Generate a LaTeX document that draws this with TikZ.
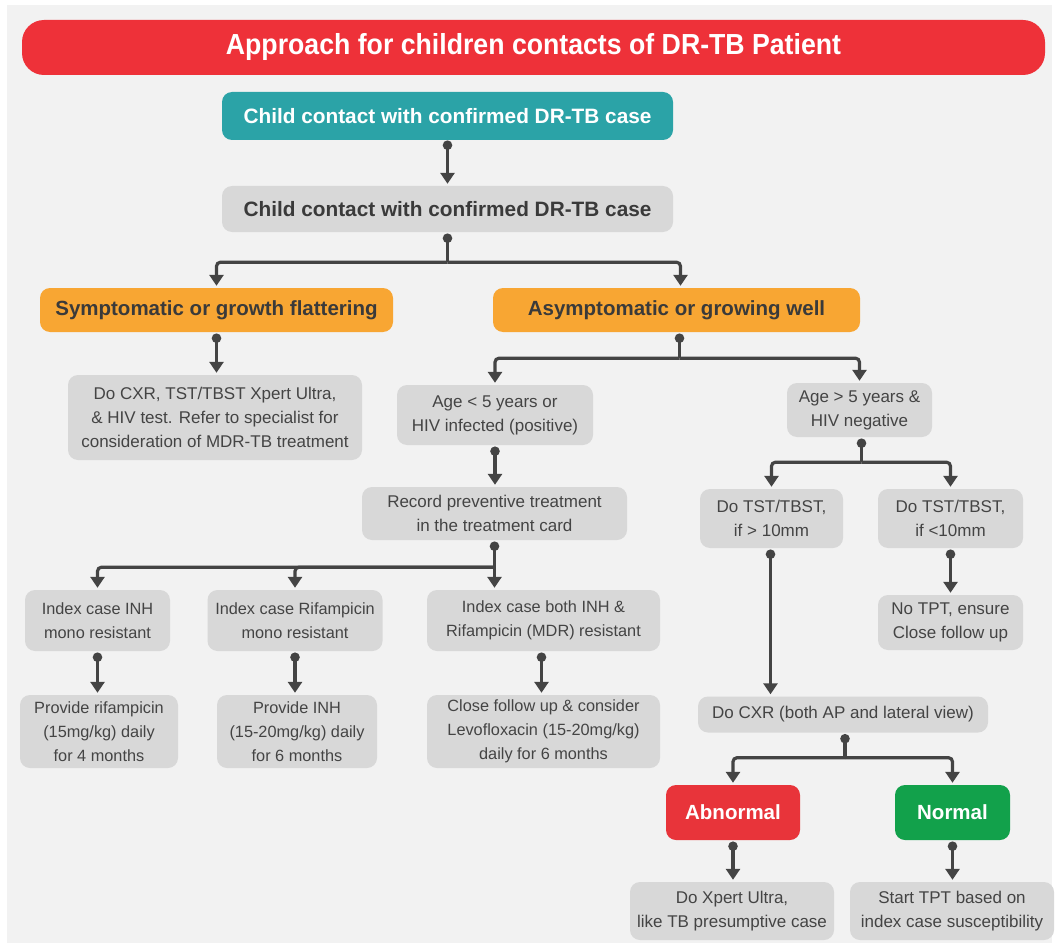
\documentclass[tikz,border=0pt]{standalone}
\usepackage{fontspec}
\setmainfont{Liberation Sans}
\usetikzlibrary{arrows.meta}
\definecolor{panel}{HTML}{F2F2F2}
\definecolor{titlered}{HTML}{EE3139}
\definecolor{teal}{HTML}{2BA3A7}
\definecolor{orng}{HTML}{F8A633}
\definecolor{boxgray}{HTML}{D8D8D8}
\definecolor{txtgray}{HTML}{444444}
\definecolor{darktxt}{HTML}{3A3A3A}
\definecolor{abnred}{HTML}{E8343A}
\definecolor{okgreen}{HTML}{12A14B}
\definecolor{linec}{HTML}{444444}
\tikzset{
  box/.style={rounded corners=10pt, align=center, inner sep=0pt},
  gbox/.style={box, fill=boxgray, text=txtgray, font=\fontsize{17}{24}\selectfont},
  sbox/.style={box, fill=boxgray, text=txtgray, font=\fontsize{16.3}{24}\selectfont},
  obox/.style={box, fill=orng, text=darktxt, font=\bfseries\fontsize{20.5}{24}\selectfont},
  bar/.style={draw=linec, line width=3.2pt},
  conn/.style={draw=linec, line width=3.2pt, rounded corners=4pt, shorten >=2pt,
    -{Triangle[width=14pt,length=11pt]}},
  jdot/.style={fill=linec},
}
\begin{document}
\begin{tikzpicture}[x=1pt,y=-1pt]
\useasboundingbox (0,0) rectangle (1058,947);
\fill[white] (0,0) rectangle (1058,947);
\fill[panel] (7,5) rectangle (1052,943);
% title
\node[box, fill=titlered, rounded corners=22pt, minimum width=1023, minimum height=55, text=white,
  font=\bfseries\fontsize{29}{32}\selectfont] (title) at (533.5,47.5) {\scalebox{0.92}[1]{Approach for children contacts of DR-TB Patient}};
% nodes
\node[box, fill=teal, text=white, font=\bfseries\fontsize{20.8}{24}\selectfont, minimum width=451, minimum height=48] (top) at (447.5,116) {Child contact with confirmed DR-TB case};
\node[box, fill=boxgray, text=darktxt, font=\bfseries\fontsize{20.8}{24}\selectfont, minimum width=451, minimum height=46] (contact) at (447.5,209) {Child contact with confirmed DR-TB case};
\node[obox, minimum width=353, minimum height=44] (symp) at (216.5,310) {Symptomatic or growth flattering};
\node[obox, minimum width=367, minimum height=44] (asym) at (676.5,310) {Asymptomatic or growing well};
\node[gbox, minimum width=294, minimum height=85] (docxr) at (215,417.5) {Do CXR, TST/TBST Xpert Ultra,\\ \& HIV test. Refer to specialist for\\ consideration of MDR-TB treatment};
\node[gbox, minimum width=196, minimum height=60] (agel) at (495,415) {Age < 5 years or\\ HIV infected (positive)};
\node[gbox, minimum width=145, minimum height=54] (ageg) at (859.5,410) {Age > 5 years \&\\ HIV negative};
\node[gbox, minimum width=265, minimum height=53] (rec) at (494.5,513.5) {Record preventive treatment\\ in the treatment card};
\node[sbox, minimum width=145, minimum height=61] (idxa) at (97.5,620.5) {Index case INH\\ mono resistant};
\node[sbox, minimum width=175, minimum height=61] (idxb) at (295,620.5) {Index case Rifampicin\\ mono resistant};
\node[sbox, minimum width=233, minimum height=61] (idxc) at (543.5,620.5) {Index case both INH \&\\ Rifampicin (MDR) resistant};
\node[sbox, minimum width=158, minimum height=73] (prova) at (99,731.5) {Provide rifampicin\\ (15mg/kg) daily\\ for 4 months};
\node[sbox, minimum width=160, minimum height=73] (provb) at (297,731.5) {Provide INH\\ (15-20mg/kg) daily\\ for 6 months};
\node[sbox, minimum width=233, minimum height=73] (provc) at (543.5,731.5) {Close follow up \& consider\\ Levofloxacin (15-20mg/kg)\\ daily for 6 months};
\node[gbox, minimum width=143, minimum height=59] (tsta) at (771.5,518.5) {Do TST/TBST,\\ if > 10mm};
\node[gbox, minimum width=145, minimum height=59] (tstb) at (950.5,518.5) {Do TST/TBST,\\ if <10mm};
\node[gbox, minimum width=145, minimum height=55] (notpt) at (950.5,622.5) {No TPT, ensure\\ Close follow up};
\node[gbox, minimum width=290, minimum height=36] (cxr) at (843,714.5) {Do CXR (both AP and lateral view)};
\node[box, fill=abnred, text=white, font=\bfseries\fontsize{20.5}{24}\selectfont, minimum width=134, minimum height=55] (abn) at (733,812.5) {Abnormal};
\node[box, fill=okgreen, text=white, font=\bfseries\fontsize{20.5}{24}\selectfont, minimum width=115, minimum height=55] (norm) at (952.5,812.5) {Normal};
\node[gbox, minimum width=204, minimum height=58] (xpert) at (732,911) {Do Xpert Ultra,\\ like TB presumptive case};
\node[gbox, minimum width=204, minimum height=58] (tpt) at (952,911) {Start TPT based on\\ index case susceptibility};
% connectors
\draw[conn] ([yshift=-5]top.south) -- (contact.north);
\fill[jdot] ([yshift=-5]top.south) circle (4.8);
\draw[bar] ([yshift=-6]contact.south) -- ++(0,24) coordinate (j1);
\draw[conn] (j1) -| (symp.north);
\draw[conn] (j1) -| ([xshift=4]asym.north);
\fill[jdot] ([yshift=-6]contact.south) circle (4.8);
\draw[conn] ([yshift=-6]symp.south) -- (symp.south |- docxr.north);
\fill[jdot] ([yshift=-6]symp.south) circle (4.8);
\draw[bar] ([xshift=3,yshift=-6]asym.south) -- ++(0,20) coordinate (j2);
\draw[conn] (j2) -| (agel.north);
\draw[conn] (j2) -| (ageg.north);
\fill[jdot] ([xshift=3,yshift=-6]asym.south) circle (4.8);
\draw[conn] ([yshift=-6]agel.south) -- (agel.south |- rec.north);
\fill[jdot] ([yshift=-6]agel.south) circle (4.8);
\draw[bar] ([xshift=2,yshift=-6]ageg.south) -- ++(0,19) coordinate (j3);
\draw[conn] (j3) -| (tsta.north);
\draw[conn] (j3) -| (tstb.north);
\fill[jdot] ([xshift=2,yshift=-6]ageg.south) circle (4.8);
\draw[bar] ([yshift=-6]rec.south) -- ++(0,21) coordinate (j4);
\draw[conn] (j4) -| (idxa.north);
\draw[conn] (j4) -| (idxb.north);
\draw[conn] (j4) -- (rec.south |- idxc.north);
\fill[jdot] ([yshift=-6]rec.south) circle (4.8);
\draw[conn] ([yshift=-6]idxa.south) -- (idxa.south |- prova.north);
\fill[jdot] ([yshift=-6]idxa.south) circle (4.8);
\draw[conn] ([yshift=-6]idxb.south) -- (idxb.south |- provb.north);
\fill[jdot] ([yshift=-6]idxb.south) circle (4.8);
\draw[conn] ([xshift=-2,yshift=-6]idxc.south) -- ([xshift=-2]idxc.south |- provc.north);
\fill[jdot] ([xshift=-2,yshift=-6]idxc.south) circle (4.8);
\draw[conn] ([xshift=-1,yshift=-6]tsta.south) -- ([xshift=-1]tsta.south |- cxr.north);
\fill[jdot] ([xshift=-1,yshift=-6]tsta.south) circle (4.8);
\draw[conn] ([yshift=-6]tstb.south) -- (tstb.south |- notpt.north);
\fill[jdot] ([yshift=-6]tstb.south) circle (4.8);
\draw[bar] ([xshift=2,yshift=-6]cxr.south) -- ++(0,19) coordinate (j5);
\draw[conn] (j5) -| (abn.north);
\draw[conn] (j5) -| (norm.north);
\fill[jdot] ([xshift=2,yshift=-6]cxr.south) circle (4.8);
\draw[conn] ([yshift=-6]abn.south) -- (abn.south |- xpert.north);
\fill[jdot] ([yshift=-6]abn.south) circle (4.8);
\draw[conn] ([yshift=-6]norm.south) -- (norm.south |- tpt.north);
\fill[jdot] ([yshift=-6]norm.south) circle (4.8);
\end{tikzpicture}
\end{document}
